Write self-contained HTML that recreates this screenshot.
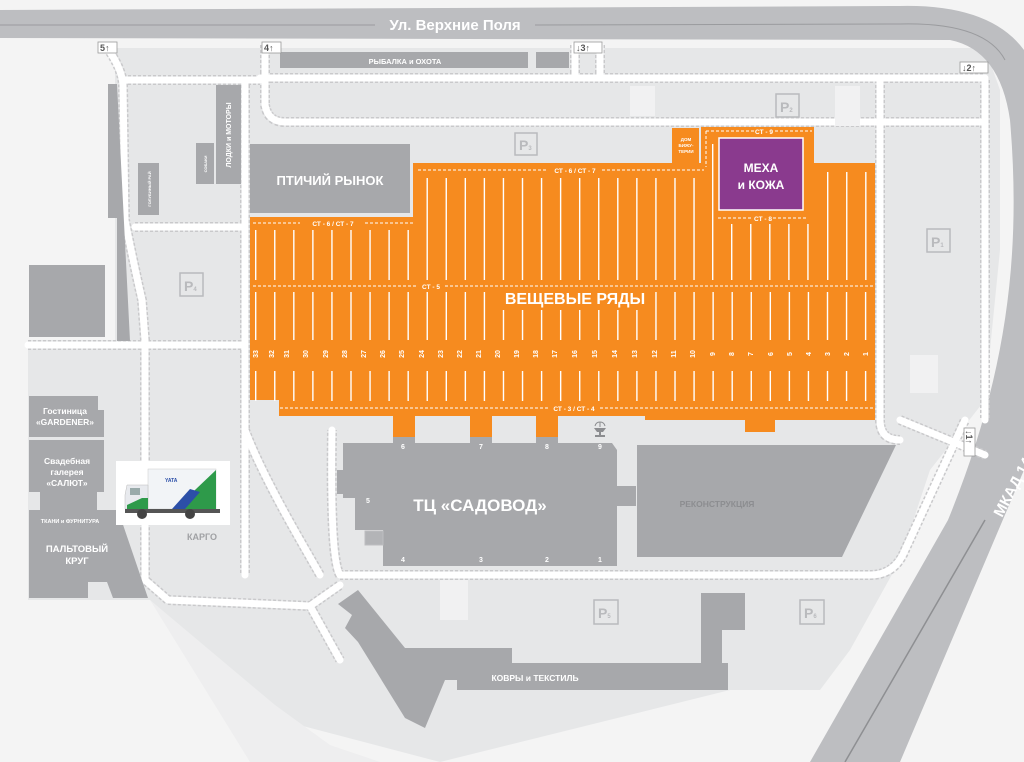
<!DOCTYPE html>
<html><head><meta charset="utf-8"><style>
html,body{margin:0;padding:0;background:#f4f4f4;}
svg{display:block;font-family:"Liberation Sans","DejaVu Sans",sans-serif;}
.w{fill:#fff;font-weight:bold;}
.g{fill:#8c8d90;font-weight:bold;}
.rd{fill:none;stroke:#fff;stroke-linecap:round;stroke-linejoin:round;}
.rdb{fill:none;stroke:#c9c9cb;stroke-dasharray:3 2;stroke-linejoin:round;}
.pb{fill:none;stroke:#b9babd;stroke-width:1.5;}
.pt{fill:#b9babd;font-weight:bold;font-size:14px;}
</style></head><body>
<svg width="1024" height="762" viewBox="0 0 1024 762" xmlns="http://www.w3.org/2000/svg">
<defs>
<path id="r" fill="none" d="M110,52 Q122,70 123,85 L125,220 Q135,270 142,300 L145,340 L145,580 L168,600 M123,80 L260,80 M265,45 L265,105 Q268,122 285,122 L985,122 M260,78 L985,78 M985,80 L985,420 M880,80 L880,420 Q880,440 900,440 M245,80 L245,575 M135,227 L245,227 M28,345 L245,345 M340,575 L870,575 Q895,575 905,550 L965,420 M340,575 Q330,560 332,430 M575,45 L575,78 M600,45 L600,78 M245,430 Q260,470 300,540 L320,575 M168,600 L310,606 L340,585 M310,606 L340,660 M900,420 L985,455"/>
</defs>
<rect width="1024" height="762" fill="#f4f4f4"/>
<!-- light areas -->
<polygon fill="#e6e7e8" points="115,48 985,48 1000,90 1000,250 985,400 930,470 900,560 850,650 820,690 730,690 440,762 280,720 150,600 28,600 28,340 115,340"/>
<polygon fill="#eeeeef" points="150,600 275,705 330,745 380,762 250,762"/>
<!-- roads -->
<path d="M0,10 L900,6 Q990,4 1024,50 L1024,470 L900,762 L810,762 L948,520 C1005,380 1022,260 1010,120 Q1000,50 950,40 L0,38 Z" fill="#bdbec1"/>
<path d="M985,520 L845,762" fill="none" stroke="#8e8f92" stroke-width="1.5"/>
<line x1="0" y1="25" x2="375" y2="25" stroke="#9a9b9e" stroke-width="1"/>
<path d="M535,25 L900,24 Q985,22 1005,60" fill="none" stroke="#9a9b9e" stroke-width="1"/>
<text x="455" y="30" class="w" font-size="15" text-anchor="middle">Ул. Верхние Поля</text>
<text transform="translate(1002,518) rotate(-62)" class="w" font-size="15">МКАД 14 км</text>
<use href="#r" class="rdb" stroke-width="10"/>
<use href="#r" class="rd" stroke-width="7"/>
<!-- light blocks -->
<rect x="630" y="86" width="25" height="30" fill="#f1f1f2"/>
<rect x="835" y="86" width="25" height="40" fill="#f1f1f2"/>
<rect x="910" y="355" width="28" height="38" fill="#f1f1f2"/>
<rect x="440" y="580" width="28" height="40" fill="#f1f1f2"/>
<!-- dark buildings -->
<g fill="#a7a8ab">
<rect x="280" y="52" width="248" height="16"/>
<rect x="536" y="52" width="33" height="16"/>
<polygon points="108,84 117,84 130,341 117,341 117,218 108,218"/>
<rect x="138" y="163" width="21" height="52"/>
<rect x="196" y="143" width="18" height="41"/>
<rect x="216" y="85" width="25" height="99"/>
<rect x="29" y="265" width="76" height="72"/>
<rect x="250" y="144" width="160" height="69"/>
<rect x="29" y="396" width="69" height="41"/><rect x="96" y="410" width="8" height="27"/>
<polygon points="29,440 104,440 104,492 97,492 97,515 40,515 40,492 29,492"/>
<polygon points="29,510 118,510 148,598 113,598 107,582 88,582 88,598 29,598"/>
<polygon points="343,443 393,443 393,437 415,437 415,443 470,443 470,437 492,437 492,443 536,443 536,437 558,437 558,443 612,443 617,450 617,566 383,566 383,530 355,530 355,498 343,498"/>
<rect x="337" y="470" width="6" height="24"/>
<rect x="617" y="486" width="19" height="20"/>
<polygon points="637,445 896,445 842,557 637,557"/>
<polygon points="338,604 358,590 405,648 512,648 512,663 701,663 701,593 745,593 745,630 722,630 722,663 728,663 728,690 457,690 457,680 445,680 425,728 405,718 358,642 345,628 352,615"/>
</g>
<rect x="365" y="531" width="18" height="14" fill="#b3b4b7" stroke="#bdbec1" stroke-width="1"/>
<!-- text on buildings -->
<text x="405" y="64" class="w" font-size="7.5" text-anchor="middle">РЫБАЛКА и ОХОТА</text>
<text x="330" y="185" class="w" font-size="13" text-anchor="middle">ПТИЧИЙ РЫНОК</text>
<text transform="translate(231,135) rotate(-90)" class="w" font-size="7" text-anchor="middle">ЛОДКИ и МОТОРЫ</text>
<text transform="translate(207,164) rotate(-90)" class="w" font-size="4" text-anchor="middle">СОБАКИ</text>
<text transform="translate(151,189) rotate(-90)" class="w" font-size="4" text-anchor="middle">ГОЛУБИНЫЙ РАЙ</text>
<text x="65" y="414" class="w" font-size="8.5" text-anchor="middle">Гостиница</text>
<text x="65" y="425" class="w" font-size="8.5" text-anchor="middle">«GARDENER»</text>
<text x="67" y="464" class="w" font-size="8.5" text-anchor="middle">Свадебная</text>
<text x="67" y="475" class="w" font-size="8.5" text-anchor="middle">галерея</text>
<text x="67" y="486" class="w" font-size="8.5" text-anchor="middle">«САЛЮТ»</text>
<text x="70" y="523" class="w" font-size="5.5" text-anchor="middle">ТКАНИ и ФУРНИТУРА</text>
<text x="77" y="552" class="w" font-size="9.5" text-anchor="middle">ПАЛЬТОВЫЙ</text>
<text x="77" y="564" class="w" font-size="9.5" text-anchor="middle">КРУГ</text>
<text x="480" y="511" class="w" font-size="17" text-anchor="middle">ТЦ «САДОВОД»</text>
<text x="717" y="507" class="g" font-size="8.5" text-anchor="middle">РЕКОНСТРУКЦИЯ</text>
<text x="535" y="681" class="w" font-size="8.5" text-anchor="middle">КОВРЫ и ТЕКСТИЛЬ</text>
<text x="202" y="540" fill="#a0a1a4" font-size="9" font-weight="bold" text-anchor="middle">КАРГО</text>
<g class="w" font-size="7" text-anchor="middle">
<text x="403" y="449">6</text><text x="481" y="449">7</text><text x="547" y="449">8</text><text x="600" y="449">9</text>
<text x="368" y="503">5</text><text x="403" y="562">4</text><text x="481" y="562">3</text><text x="547" y="562">2</text><text x="600" y="562">1</text>
</g>
<!-- orange -->
<polygon fill="#f68b1f" points="250,217 413,217 413,163 672,163 672,128 700,128 700,163 701,163 701,127 814,127 814,163 875,163 875,420 775,420 775,432 745,432 745,420 645,420 645,416 558,416 558,437 536,437 536,416 492,416 492,437 470,437 470,416 415,416 415,437 393,437 393,416 279,416 279,400 250,400"/>
<line x1="700" y1="128" x2="700" y2="163" stroke="#e6e7e8" stroke-width="2"/>
<g stroke="#fff" stroke-width="1" stroke-dasharray="3 2" fill="none">
<line x1="253" y1="223" x2="300" y2="223"/><line x1="365" y1="223" x2="413" y2="223"/>
<line x1="418" y1="170" x2="548" y2="170"/><line x1="602" y1="170" x2="704" y2="170"/>
<line x1="253" y1="286" x2="417" y2="286"/><line x1="445" y1="286" x2="875" y2="286"/>
<line x1="280" y1="408" x2="548" y2="408"/><line x1="600" y1="408" x2="875" y2="408"/>
<line x1="706" y1="131" x2="754" y2="131"/><line x1="775" y1="131" x2="812" y2="131"/>
<line x1="706" y1="131" x2="706" y2="167"/>
<line x1="718" y1="218" x2="753" y2="218"/><line x1="773" y1="218" x2="806" y2="218"/>
</g>
<g class="w" font-size="6.5" text-anchor="middle">
<text x="333" y="226">СТ - 6 / СТ - 7</text>
<text x="575" y="173">СТ - 6 / СТ - 7</text>
<text x="431" y="289">СТ - 5</text>
<text x="574" y="411">СТ - 3 / СТ - 4</text>
<text x="764" y="134">СТ - 9</text>
<text x="763" y="221">СТ - 8</text>
<text x="686" y="141" font-size="4.5">ДОМ</text>
<text x="686" y="147" font-size="4.5">БИЖУ-</text>
<text x="686" y="153" font-size="4.5">ТЕРИИ</text>
</g>
<!-- stripes -->
<g stroke="#fff" stroke-dasharray="1.4 17.66" fill="none">
<line x1="255" y1="255" x2="414" y2="255" stroke-width="50"/>
<line x1="426.5" y1="229" x2="706" y2="229" stroke-width="102"/>
<line x1="712" y1="212" x2="714" y2="212" stroke-width="136"/>
<line x1="731" y1="252" x2="810" y2="252" stroke-width="56"/>
<line x1="827" y1="226" x2="867" y2="226" stroke-width="108"/>
<line x1="255" y1="316" x2="867" y2="316" stroke-width="48"/>
<line x1="255" y1="386" x2="867" y2="386" stroke-width="30"/>
</g>
<rect x="500" y="290" width="150" height="20" fill="#f68b1f"/>
<rect x="719" y="138" width="84" height="72" fill="#8a3a8e" stroke="#fff" stroke-width="1.5"/>
<text x="761" y="172" class="w" font-size="12" text-anchor="middle">МЕХА</text>
<text x="761" y="189" class="w" font-size="12" text-anchor="middle">и КОЖА</text>
<text x="575" y="304" class="w" font-size="16" text-anchor="middle">ВЕЩЕВЫЕ РЯДЫ</text>
<g class="w" font-size="7" text-anchor="middle">
<text transform="translate(258,354) rotate(-90)">33</text><text transform="translate(274,354) rotate(-90)">32</text><text transform="translate(289,354) rotate(-90)">31</text><text transform="translate(308,354) rotate(-90)">30</text><text transform="translate(328,354) rotate(-90)">29</text><text transform="translate(347,354) rotate(-90)">28</text><text transform="translate(366,354) rotate(-90)">27</text><text transform="translate(385,354) rotate(-90)">26</text><text transform="translate(404,354) rotate(-90)">25</text><text transform="translate(424,354) rotate(-90)">24</text><text transform="translate(443,354) rotate(-90)">23</text><text transform="translate(462,354) rotate(-90)">22</text><text transform="translate(481,354) rotate(-90)">21</text><text transform="translate(500,354) rotate(-90)">20</text><text transform="translate(519,354) rotate(-90)">19</text><text transform="translate(538,354) rotate(-90)">18</text><text transform="translate(557,354) rotate(-90)">17</text><text transform="translate(577,354) rotate(-90)">16</text><text transform="translate(597,354) rotate(-90)">15</text><text transform="translate(617,354) rotate(-90)">14</text><text transform="translate(637,354) rotate(-90)">13</text><text transform="translate(657,354) rotate(-90)">12</text><text transform="translate(676,354) rotate(-90)">11</text><text transform="translate(695,354) rotate(-90)">10</text><text transform="translate(715,354) rotate(-90)">9</text><text transform="translate(734,354) rotate(-90)">8</text><text transform="translate(753,354) rotate(-90)">7</text><text transform="translate(773,354) rotate(-90)">6</text><text transform="translate(792,354) rotate(-90)">5</text><text transform="translate(811,354) rotate(-90)">4</text><text transform="translate(830,354) rotate(-90)">3</text><text transform="translate(849,354) rotate(-90)">2</text><text transform="translate(868,354) rotate(-90)">1</text>
</g>
<!-- fountain -->
<g fill="#8c8d90"><path d="M594,428 h12 l-3,4 h-6 z"/><rect x="599" y="432" width="2" height="3"/><rect x="595" y="435" width="10" height="2"/><path d="M600,427 v-5 M600,422 q-4,0 -5,4 M600,422 q4,0 5,4" stroke="#8c8d90" fill="none" stroke-width="1"/></g>
<!-- parking -->
<rect x="180" y="273" width="23" height="23" class="pb"/><text x="184" y="291" class="pt">P<tspan font-size="6">4</tspan></text>
<rect x="515" y="133" width="22" height="22" class="pb"/><text x="519" y="150" class="pt">P<tspan font-size="6">3</tspan></text>
<rect x="776" y="94" width="23" height="23" class="pb"/><text x="780" y="112" class="pt">P<tspan font-size="6">2</tspan></text>
<rect x="927" y="229" width="23" height="23" class="pb"/><text x="931" y="247" class="pt">P<tspan font-size="6">1</tspan></text>
<rect x="594" y="600" width="24" height="24" class="pb"/><text x="598" y="618" class="pt">P<tspan font-size="6">5</tspan></text>
<rect x="800" y="600" width="24" height="24" class="pb"/><text x="804" y="618" class="pt">P<tspan font-size="6">6</tspan></text>
<!-- entry signs -->
<g font-size="9" font-weight="bold" fill="#555">
<rect x="98" y="42" width="19" height="11" fill="#fff" stroke="#999" stroke-width="0.8"/><text x="100" y="51">5↑</text>
<rect x="262" y="42" width="19" height="11" fill="#fff" stroke="#999" stroke-width="0.8"/><text x="264" y="51">4↑</text>
<rect x="574" y="42" width="28" height="11" fill="#fff" stroke="#999" stroke-width="0.8"/><text x="576" y="51">↓3↑</text>
<rect x="960" y="62" width="28" height="11" fill="#fff" stroke="#999" stroke-width="0.8"/><text x="962" y="71">↓2↑</text>
<g transform="translate(975,428) rotate(90)"><rect x="0" y="0" width="28" height="11" fill="#fff" stroke="#999" stroke-width="0.8"/><text x="2" y="9">↓1↑</text></g>
</g>
<!-- truck -->
<rect x="116" y="461" width="114" height="64" fill="#fff"/>
<rect x="148" y="469" width="68" height="40" fill="#f2f4f7" stroke="#ccc" stroke-width="0.5"/>
<polygon points="175,509 216,470 216,509" fill="#2e9a4a"/>
<polygon points="172,509 190,489 200,492 185,509" fill="#2c4fa8"/>
<polygon points="127,485 148,485 148,509 125,509 125,495" fill="#e8eaee" stroke="#bbb" stroke-width="0.5"/>
<rect x="130" y="488" width="10" height="7" fill="#9aa"/>
<polygon points="127,505 142,498 148,498 148,509 127,509" fill="#2e9a4a"/>
<rect x="125" y="509" width="95" height="4" fill="#555"/>
<circle cx="142" cy="514" r="5" fill="#444"/><circle cx="190" cy="514" r="5" fill="#444"/>
<text x="165" y="482" font-size="5" fill="#2c4fa8" font-weight="bold">YATA</text>
</svg>
</body></html>
